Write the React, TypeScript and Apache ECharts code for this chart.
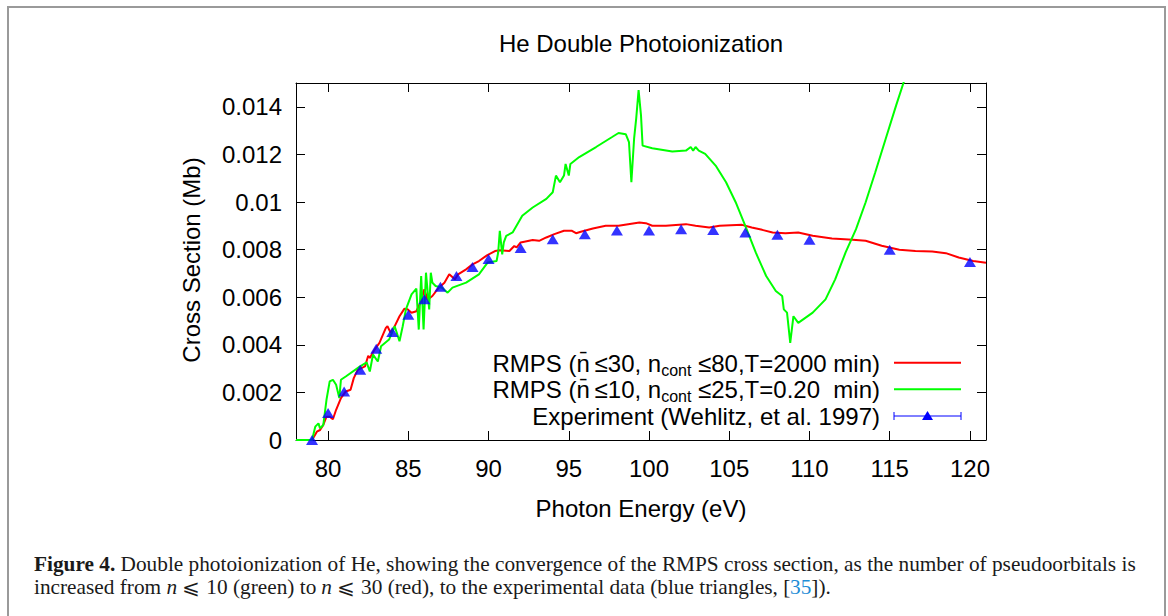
import React, { useEffect, useRef } from "react";
import * as echarts from "echarts";

// ---------- data ----------
const xTicks = [80, 85, 90, 95, 100, 105, 110, 115, 120];
const yTicks = [0, 0.002, 0.004, 0.006, 0.008, 0.01, 0.012, 0.014];

// RMPS (n̄≤30) – red
const redEnergy = [78, 79.0, 79.3, 79.5, 79.7, 79.9, 80.1, 80.3, 80.5, 80.8, 81.1, 81.4, 81.6, 81.85, 82.3, 82.5, 82.6, 82.9, 83.2, 83.6, 83.7, 83.9, 84.1, 84.45, 84.75, 84.95, 85.2, 85.5, 85.8, 86.0, 86.2, 86.5, 86.9, 87.25, 87.55, 87.9, 88.1, 88.6, 89.0, 89.4, 89.9, 90.4, 90.7, 91.3, 91.6, 91.75, 92.0, 92.75, 93.15, 93.6, 94.1, 94.7, 95.2, 95.45, 95.75, 96.5, 97.3, 98.1, 99.4, 99.8, 100.2, 101.05, 102.3, 102.9, 103.75, 104.4, 105.8, 106.4, 107.05, 107.7, 108.5, 109.3, 110.2, 111.4, 112.7, 113.5, 114.5, 115.6, 116.6, 117.65, 118.5, 119.3, 120.2, 121];
const redXs = [0, 0, 0.00035, 0.00042, 0.00063, 0.00098, 0.00098, 0.00087, 0.00127, 0.00176, 0.00204, 0.00211, 0.0026, 0.00295, 0.00309, 0.00354, 0.00345, 0.0038, 0.00408, 0.00471, 0.00478, 0.0045, 0.00471, 0.0052, 0.00551, 0.00549, 0.00535, 0.00541, 0.00584, 0.00633, 0.0059, 0.00605, 0.0064, 0.00661, 0.00696, 0.00675, 0.00696, 0.00717, 0.00738, 0.00752, 0.00776, 0.00794, 0.00797, 0.00794, 0.00815, 0.00809, 0.0083, 0.0084, 0.00837, 0.00851, 0.00865, 0.00879, 0.00879, 0.00869, 0.00875, 0.00889, 0.009, 0.009, 0.00914, 0.00911, 0.009, 0.009, 0.00907, 0.009, 0.00893, 0.009, 0.00904, 0.00893, 0.00883, 0.00872, 0.00869, 0.00872, 0.00858, 0.00847, 0.00841, 0.00837, 0.00816, 0.00799, 0.00794, 0.00792, 0.00785, 0.00767, 0.00752, 0.00745];

// RMPS (n̄≤10) – green
const greenEnergy = [78, 79.0, 79.2, 79.4, 79.5, 79.7, 79.9, 80.1, 80.3, 80.5, 80.7, 80.8, 81.1, 81.95, 82.4, 82.6, 82.8, 83.1, 83.3, 83.8, 84.15, 84.25, 84.45, 84.65, 84.85, 85.2, 85.5, 85.65, 85.8, 85.95, 86.1, 86.3, 86.4, 86.5, 86.7, 87.1, 87.45, 87.75, 88.6, 89.4, 89.95, 90.5, 90.6, 90.7, 90.85, 90.95, 91.1, 91.5, 92.1, 92.75, 93.6, 94.0, 94.2, 94.45, 94.7, 94.8, 95.0, 95.1, 95.65, 96.7, 97.7, 98.1, 98.55, 98.75, 98.9, 99.07, 99.2, 99.35, 99.5, 99.6, 100.2, 101.45, 102.3, 102.6, 102.75, 102.9, 103.1, 103.5, 104.15, 104.8, 105.4, 106.0, 106.65, 107.3, 107.9, 108.3, 108.4, 108.6, 108.8, 109.0, 109.3, 110.2, 111.0, 111.6, 112.25, 112.9, 113.5, 114.1, 114.75, 115.4, 116.0];
const greenXs = [0, 0, 0.00056, 0.0007, 0.00049, 0.00063, 0.00169, 0.00246, 0.00253, 0.00232, 0.00176, 0.00253, 0.00267, 0.00307, 0.00326, 0.00288, 0.00359, 0.0033, 0.00394, 0.00422, 0.00478, 0.00457, 0.00415, 0.00478, 0.00549, 0.00612, 0.00636, 0.00464, 0.00689, 0.00464, 0.00703, 0.00549, 0.00703, 0.00661, 0.00647, 0.0064, 0.00619, 0.0064, 0.00661, 0.00696, 0.00746, 0.00752, 0.00788, 0.00879, 0.0078, 0.0083, 0.00858, 0.00872, 0.00942, 0.00977, 0.01013, 0.01041, 0.01111, 0.01083, 0.01111, 0.0116, 0.01111, 0.0116, 0.01189, 0.01231, 0.01273, 0.0129, 0.01285, 0.01252, 0.01083, 0.01266, 0.0135, 0.0147, 0.01364, 0.01237, 0.01226, 0.01212, 0.01216, 0.01231, 0.01216, 0.01231, 0.01216, 0.01202, 0.01153, 0.01083, 0.00999, 0.009, 0.00788, 0.00689, 0.00626, 0.00605, 0.00549, 0.00535, 0.00408, 0.0052, 0.00492, 0.00535, 0.00591, 0.00675, 0.00788, 0.00886, 0.00999, 0.01125, 0.01266, 0.01406, 0.0153];

// Experiment (Wehlitz et al. 1997)
const expEnergy = [79, 80, 81, 82, 83, 84, 85, 86, 87, 88, 89, 90, 92, 94, 96, 98, 100, 102, 104, 106, 108, 110, 115, 120];
const expXs = [0, 0.00113, 0.00204, 0.00295, 0.00383, 0.00454, 0.00526, 0.00591, 0.00644, 0.00689, 0.00727, 0.0076, 0.00807, 0.00844, 0.00865, 0.0088, 0.0088, 0.00886, 0.00882, 0.00872, 0.00862, 0.00841, 0.00799, 0.00748];

const titleText = "He Double Photoionization";
const xName = "Photon Energy (eV)";
const yName = "Cross Section (Mb)";
const legendRed = "{a|RMPS (n\u0304\u2009\u226430, n}{s|cont}{a| \u226480,T=2000 min)}";
const legendGreen = "{a|RMPS (n\u0304\u2009\u226410, n}{s|cont}{a| \u226425,T=0.20  min)}";
const legendExp = "Experiment (Wehlitz, et al. 1997)";
const caption1 = "{b|Figure 4.} Double photoionization of He, showing the convergence of the RMPS cross section, as the number of pseudoorbitals is";
const caption2 = "increased from {i|n} \u2a7d 10 (green) to {i|n} \u2a7d 30 (red), to the experimental data (blue triangles, [{c|35}]).";

const SANS = "'Liberation Sans', Arial, Helvetica, sans-serif";
const SERIF = "'Liberation Serif', 'Times New Roman', 'DejaVu Serif', serif";

const zip = (a: number[], b: number[]) => a.map((v, i) => [v, b[i]]);

export default function App() {
  const ref = useRef<HTMLDivElement>(null);

  useEffect(() => {
    if (!ref.current) return;
    const chart = echarts.init(ref.current, undefined, { renderer: "svg" });

    const axisLine = { show: true, onZero: false, lineStyle: { color: "#000", width: 1 } };
    const tickStyle = { color: "#000", width: 1 };
    const GL = 296, GT = 83, GW = 690, GH = 357;

    const legendRich = {
      a: { fontSize: 24, fontFamily: SANS, lineHeight: 24, verticalAlign: "top", fill: "#000", color: "#000" },
      s: { fontSize: 16, fontFamily: SANS, lineHeight: 14, padding: [11, 0, 0, 0], verticalAlign: "top", fill: "#000", color: "#000" },
    };

    const legendRows = [362.7, 389.3, 416];
    const sx0 = 894, sx1 = 961, scx = 927.5;
    const capFont = 20;
    const capScale = 1.065;

    chart.setOption({
      animation: false,
      grid: { left: GL, top: GT, width: GW, height: GH, containLabel: false },
      xAxis: [
        {
          type: "value", min: 78, max: 121, position: "bottom",
          axisLine,
          axisTick: { show: true, inside: true, length: 9, customValues: xTicks, lineStyle: tickStyle },
          axisLabel: { show: true, customValues: xTicks, fontSize: 24, fontFamily: SANS, color: "#000", margin: 16 },
          splitLine: { show: false },
        },
        {
          type: "value", min: 78, max: 121, position: "top",
          axisLine,
          axisTick: { show: true, inside: true, length: 9, customValues: xTicks, lineStyle: tickStyle },
          axisLabel: { show: false },
          splitLine: { show: false },
        },
      ],
      yAxis: [
        {
          type: "value", min: 0, max: 0.015, position: "left",
          axisLine,
          axisTick: { show: true, inside: true, length: 9, customValues: yTicks, lineStyle: tickStyle },
          axisLabel: {
            show: true, customValues: yTicks, fontSize: 24, fontFamily: SANS, color: "#000", margin: 14,
            formatter: (v: number) => String(+Number(v).toFixed(3)),
          },
          splitLine: { show: false },
        },
        {
          type: "value", min: 0, max: 0.015, position: "right",
          axisLine,
          axisTick: { show: true, inside: true, length: 9, customValues: yTicks, lineStyle: tickStyle },
          axisLabel: { show: false },
          splitLine: { show: false },
        },
      ],
      series: [
        {
          name: "RMPS n≤30", type: "line", xAxisIndex: 0, yAxisIndex: 0,
          data: zip(redEnergy, redXs), symbol: "none", showSymbol: false, clip: true,
          lineStyle: { color: "#ff0000", width: 2 }, z: 2,
        },
        {
          name: "RMPS n≤10", type: "line", xAxisIndex: 0, yAxisIndex: 0,
          data: zip(greenEnergy, greenXs), symbol: "none", showSymbol: false, clip: true,
          lineStyle: { color: "#00ff00", width: 2 }, z: 3,
        },
        {
          name: "Experiment", type: "scatter", xAxisIndex: 0, yAxisIndex: 0,
          data: zip(expEnergy, expXs), symbol: "triangle", symbolSize: [12, 10], clip: false,
          itemStyle: { color: "#0000ff" }, z: 4,
        },
      ],
      graphic: [
        {
          type: "rect", shape: { x: 8, y: 7, width: 1157, height: 640 },
          style: { fill: "none", stroke: "#9a9a9a", lineWidth: 2 }, silent: true,
        },
        {
          type: "text", x: 641, y: 43,
          style: { text: titleText, fontSize: 24, fontFamily: SANS, fill: "#000", textAlign: "center", textVerticalAlign: "middle", align: "center", verticalAlign: "middle" },
        },
        {
          type: "text", x: 641, y: 508,
          style: { text: xName, fontSize: 24, fontFamily: SANS, fill: "#000", textAlign: "center", textVerticalAlign: "middle", align: "center", verticalAlign: "middle" },
        },
        {
          type: "text", x: 191, y: 260, rotation: Math.PI / 2,
          style: { text: yName, fontSize: 24, fontFamily: SANS, fill: "#000", textAlign: "center", textVerticalAlign: "middle", align: "center", verticalAlign: "middle" },
        },
        // legend
        {
          type: "text", x: 880, y: legendRows[0] + 0.5,
          style: { text: legendRed, rich: legendRich, fontSize: 24, fontFamily: SANS, fill: "#000", textAlign: "right", textVerticalAlign: "middle", align: "right", verticalAlign: "middle" },
        },
        {
          type: "text", x: 880, y: legendRows[1] + 0.5,
          style: { text: legendGreen, rich: legendRich, fontSize: 24, fontFamily: SANS, fill: "#000", textAlign: "right", textVerticalAlign: "middle", align: "right", verticalAlign: "middle" },
        },
        {
          type: "text", x: 880, y: legendRows[2] + 0.5,
          style: { text: legendExp, fontSize: 24, lineHeight: 24, fontFamily: SANS, fill: "#000", textAlign: "right", textVerticalAlign: "middle", align: "right", verticalAlign: "middle" },
        },
        { type: "line", shape: { x1: sx0, y1: legendRows[0], x2: sx1, y2: legendRows[0] }, style: { stroke: "#ff0000", lineWidth: 2 } },
        { type: "line", shape: { x1: sx0, y1: legendRows[1], x2: sx1, y2: legendRows[1] }, style: { stroke: "#00ff00", lineWidth: 2 } },
        { type: "line", shape: { x1: sx0, y1: legendRows[2], x2: sx1, y2: legendRows[2] }, style: { stroke: "#0000ff", lineWidth: 1 } },
        { type: "line", shape: { x1: sx0, y1: legendRows[2] - 4, x2: sx0, y2: legendRows[2] + 4 }, style: { stroke: "#0000ff", lineWidth: 1 } },
        { type: "line", shape: { x1: sx1, y1: legendRows[2] - 4, x2: sx1, y2: legendRows[2] + 4 }, style: { stroke: "#0000ff", lineWidth: 1 } },
        {
          type: "polygon",
          shape: { points: [[scx - 5.5, legendRows[2] + 4], [scx + 5.5, legendRows[2] + 4], [scx, legendRows[2] - 5]] },
          style: { fill: "#0000ff" },
        },
        // caption
        {
          type: "text", x: 34, y: 564, scaleX: capScale,
          style: {
            text: caption1, fontSize: capFont, fontFamily: SERIF, fill: "#1a1a1a",
            textAlign: "left", textVerticalAlign: "middle", align: "left", verticalAlign: "middle",
            rich: { b: { fontSize: capFont, fontFamily: SERIF, fontWeight: "bold", fill: "#1a1a1a" } },
          },
        },
        {
          type: "text", x: 34, y: 587, scaleX: capScale,
          style: {
            text: caption2, fontSize: capFont, fontFamily: SERIF, fill: "#1a1a1a",
            textAlign: "left", textVerticalAlign: "middle", align: "left", verticalAlign: "middle",
            rich: {
              i: { fontSize: capFont, fontFamily: SERIF, fontStyle: "italic", fill: "#1a1a1a" },
              c: { fontSize: capFont, fontFamily: SERIF, fill: "#1f8dd6" },
            },
          },
        },
      ],
    });

    return () => chart.dispose();
  }, []);

  return (
    <div
      ref={ref}
      style={{ position: "absolute", left: 0, top: 0, width: 1168, height: 616, background: "#fff" }}
    />
  );
}
